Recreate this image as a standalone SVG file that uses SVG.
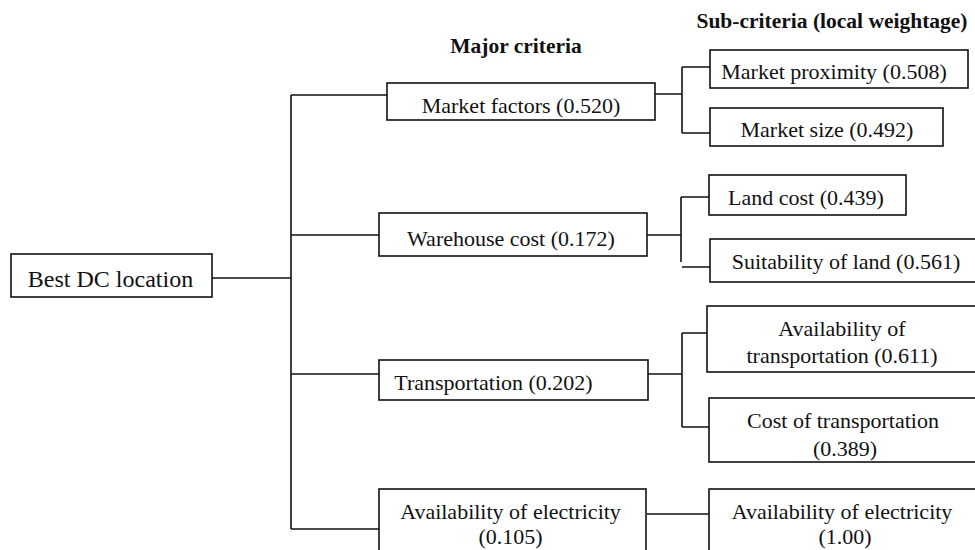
<svg xmlns="http://www.w3.org/2000/svg" width="975" height="550" viewBox="0 0 975 550">
<style>
.box{fill:#fff;stroke:#111;stroke-width:1.6}
.t{font-family:"Liberation Serif","Times New Roman",serif;font-size:22px;fill:#111;text-anchor:middle}
.h{font-family:"Liberation Serif","Times New Roman",serif;font-size:21.5px;font-weight:bold;fill:#111;text-anchor:middle}
.c{fill:none;stroke:#111;stroke-width:1.6}
</style>
<rect width="975" height="550" fill="#fff"/>
<text class="h" x="516" y="53">Major criteria</text>
<text class="h" x="832" y="28">Sub-criteria (local weightage)</text>
<g id="connectors">
<path class="c" d="M212,278H291M291,95V529M291,95H387M291,235H379M291,374H379M291,529H379"/>
<path class="c" d="M655,94H682M682,67V133M682,67H710M682,133H710"/>
<path class="c" d="M647,235H681M681,197V262M681,197H709M682,267H710"/>
<path class="c" d="M648,374H682M682,333V427M682,333H707M682,427H709"/>
<path class="c" d="M647,514H709"/>
</g>
<g id="root"><rect class="box" x="11" y="254" width="201" height="43"/><text class="t" x="110.5" y="287" style="font-size:24px">Best DC location</text></g>
<g id="market-factors"><rect class="box" x="387" y="83" width="268" height="37"/><text class="t" x="521" y="113">Market factors (0.520)</text></g>
<g id="warehouse-cost"><rect class="box" x="379" y="213" width="268" height="43"/><text class="t" x="511" y="246">Warehouse cost (0.172)</text></g>
<g id="transportation"><rect class="box" x="379" y="360" width="269" height="40"/><text class="t" x="493.5" y="390">Transportation (0.202)</text></g>
<g id="electricity"><rect class="box" x="379" y="489" width="267" height="70"/><text class="t" x="510.5" y="519">Availability of electricity</text><text class="t" x="510.5" y="544">(0.105)</text></g>
<g id="market-proximity"><rect class="box" x="710" y="50" width="258" height="38"/><text class="t" x="834" y="79">Market proximity (0.508)</text></g>
<g id="market-size"><rect class="box" x="710" y="108" width="233" height="38"/><text class="t" x="827" y="137">Market size (0.492)</text></g>
<g id="land-cost"><rect class="box" x="709" y="175" width="197" height="40"/><text class="t" x="806" y="205">Land cost (0.439)</text></g>
<g id="suitability-land"><rect class="box" x="710" y="239" width="280" height="43"/><text class="t" x="846" y="269">Suitability of land (0.561)</text></g>
<g id="availability-transportation"><rect class="box" x="707" y="306" width="280" height="66"/><text class="t" x="842" y="336">Availability of</text><text class="t" x="842" y="363">transportation (0.611)</text></g>
<g id="cost-transportation"><rect class="box" x="709" y="398" width="280" height="64"/><text class="t" x="843" y="428">Cost of transportation</text><text class="t" x="845" y="456">(0.389)</text></g>
<g id="electricity-sub"><rect class="box" x="709" y="489" width="280" height="70"/><text class="t" x="842" y="519">Availability of electricity</text><text class="t" x="845" y="544">(1.00)</text></g>
</svg>
